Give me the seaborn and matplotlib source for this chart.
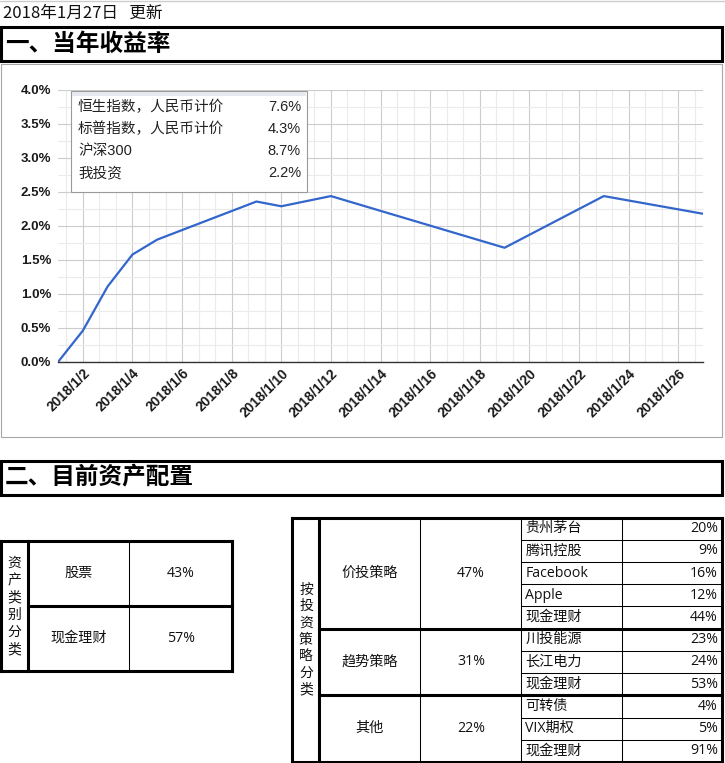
import matplotlib
matplotlib.use('Agg')
import matplotlib.pyplot as plt
from matplotlib.patches import Rectangle
from matplotlib.ticker import FixedLocator, MultipleLocator
from matplotlib.transforms import ScaledTranslation
import matplotlib.dates as mdates
import numpy as np
import pandas as pd
import seaborn as sns

# header texts
update_text = '2018年1月27日   更新'
title_1 = '一、当年收益率'
title_2 = '二、目前资产配置'

# yearly return line (in %)
dates = ['2018/1/1', '2018/1/2', '2018/1/3', '2018/1/4', '2018/1/5', '2018/1/9',
         '2018/1/10', '2018/1/12', '2018/1/19', '2018/1/23', '2018/1/27']
returns = [0.0, 0.46, 1.11, 1.58, 1.80, 2.36, 2.29, 2.44, 1.68, 2.44, 2.18]
date_ticks = ['2018/1/2', '2018/1/4', '2018/1/6', '2018/1/8', '2018/1/10', '2018/1/12',
              '2018/1/14', '2018/1/16', '2018/1/18', '2018/1/20', '2018/1/22',
              '2018/1/24', '2018/1/26']
y_ticks = [0.0, 0.5, 1.0, 1.5, 2.0, 2.5, 3.0, 3.5, 4.0]

legend_names = ['恒生指数，人民币计价', '标普指数，人民币计价', '沪深300', '我投资']
legend_values = ['7.6%', '4.3%', '8.7%', '2.2%']

# allocation tables
asset_title = '资产类别分类'
asset_names = ['股票', '现金理财']
asset_pcts = ['43%', '57%']

strategy_title = '按投资策略分类'
strategy_names = ['价投策略', '趋势策略', '其他']
strategy_pcts = ['47%', '31%', '22%']
value_names = ['贵州茅台', '腾讯控股', 'Facebook', 'Apple', '现金理财']
value_pcts = ['20%', '9%', '16%', '12%', '44%']
trend_names = ['川投能源', '长江电力', '现金理财']
trend_pcts = ['23%', '24%', '53%']
other_names = ['可转债', 'VIX期权', '现金理财']
other_pcts = ['4%', '5%', '91%']

sns.set_style('white')
plt.rcParams['font.family'] = ['Liberation Sans', 'Noto Sans CJK SC']
CJK = ['Noto Sans CJK SC']
TAB = ['Open Sans', 'Noto Sans CJK SC']
LEG = ['Liberation Sans', 'Noto Sans CJK SC']

W, H = 725, 763
fig = plt.figure(figsize=(W / 100, H / 100), dpi=100, facecolor='white')


def frect(x0, y0, x1, y1):
    return [x0 / W, 1 - y1 / H, (x1 - x0) / W, (y1 - y0) / H]


# ---- line chart ----
ax = fig.add_axes(frect(58, 90, 703, 362), zorder=1)
df = pd.DataFrame({'date': pd.to_datetime(dates, format='%Y/%m/%d'), 'ret': returns})
sns.lineplot(data=df, x='date', y='ret', ax=ax, color='#3366cc', linewidth=1.6)
ax.set(xlabel='', ylabel='')
ax.set_xlim(pd.Timestamp('2018-01-01'), pd.Timestamp('2018-01-27'))
ax.set_ylim(0, 4)

tick_pos = mdates.date2num(pd.to_datetime(date_ticks, format='%Y/%m/%d'))
x0, x1 = ax.get_xlim()
minor = [tick_pos[0] - 2 / 3] + [t + d for t in tick_pos for d in (2 / 3, 4 / 3)]
minor = [m for m in minor if x0 < m < x1]
ax.set_xticks(tick_pos)
ax.set_xticklabels(date_ticks, rotation=45, ha='right', va='top', rotation_mode='anchor',
                   fontsize=10, fontweight='bold', color='#1a1a1a')
shift = ScaledTranslation(4 / 100, 0, fig.dpi_scale_trans)
for lbl in ax.get_xticklabels():
    lbl.set_transform(lbl.get_transform() + shift)
ax.xaxis.set_minor_locator(FixedLocator(minor))
ax.set_yticks(y_ticks)
ax.set_yticklabels([f'{v:.1f}%' for v in y_ticks], fontsize=9.5, fontweight='bold', color='#1a1a1a')
ax.yaxis.set_minor_locator(MultipleLocator(0.25))
ax.tick_params(axis='both', which='both', length=0)
ax.tick_params(axis='x', pad=3)
ax.tick_params(axis='y', pad=5)
ax.set_axisbelow(True)
ax.grid(which='major', color='#cccccc', linewidth=0.8)
ax.grid(which='minor', color='#ebebeb', linewidth=0.8)
for s in ['left', 'top', 'right']:
    ax.spines[s].set_visible(False)
ax.spines['bottom'].set_color('#333333')
ax.spines['bottom'].set_linewidth(1.0)

# ---- overlay in pixel coordinates ----
ov = fig.add_axes([0, 0, 1, 1], zorder=2)
ov.set_xlim(0, W)
ov.set_ylim(H, 0)
ov.axis('off')
ov.patch.set_alpha(0)

ov.plot([0, W], [0.5, 0.5], color='#cccccc', lw=1)
ov.text(3, 13, update_text, fontsize=12, family=CJK, va='center', ha='left', color='#111111')

for (yt, yb), title in [((27.3, 60.7), title_1), ((460.5, 494.7), title_2)]:
    ov.add_patch(Rectangle((1.5, yt), 721, yb - yt, fill=False, ec='black', lw=2.2))
    ov.text(5, (yt + yb) / 2, title, fontsize=17, family=CJK, fontweight='bold',
            va='center', ha='left', color='black')

# chart container
ov.add_patch(Rectangle((1, 63.5), 721, 373.5, fill=False, ec='#a6a6a6', lw=0.8))

# legend box
ov.add_patch(Rectangle((71, 91), 236, 101, fc='white', ec='#9a9a9a', lw=0.8))
ov.add_patch(Rectangle((71.6, 91.6), 234.8, 4, fc='#e6e9f0', ec='none'))
for i, (nm, vl) in enumerate(zip(legend_names, legend_values)):
    yy = 107 + i * 22
    ov.text(78, yy, nm, fontsize=10.5, family=LEG, va='center', ha='left', color='#222222')
    ov.text(301, yy, vl, fontsize=10.5, family=LEG, va='center', ha='right', color='#222222')

THICK, THIN = 2.2, 0.75


def hline(x_a, x_b, y, lw):
    ov.plot([x_a, x_b], [y, y], color='black', lw=lw, solid_capstyle='projecting')


def vline(x, y_a, y_b, lw):
    ov.plot([x, x], [y_a, y_b], color='black', lw=lw, solid_capstyle='projecting')


def vertical_text(x, yc, txt, step, size):
    n = len(txt)
    for i, ch in enumerate(txt):
        ov.text(x, yc + (i - (n - 1) / 2) * step, ch, fontsize=size, family=CJK,
                ha='center', va='center', color='#111111')


# ---- left table ----
lt, lb, lm = 540.7, 671, 606
lx = [1.5, 28, 129.5, 232]
for x in [lx[0], lx[1], lx[3]]:
    vline(x, lt, lb, THICK)
vline(lx[2], lt, lb, THIN)
hline(lx[0], lx[3], lt, THICK)
hline(lx[0], lx[3], lb, THICK)
hline(lx[1], lx[3], lm, THICK)
vertical_text((lx[0] + lx[1]) / 2, (lt + lb) / 2, asset_title, 17.3, 10)
for (ya, yb), nm, pc in zip([(lt, lm), (lm, lb)], asset_names, asset_pcts):
    ov.text((lx[1] + lx[2]) / 2, (ya + yb) / 2, nm, fontsize=10.2, family=TAB, ha='center', va='center', color='#111111')
    ov.text((lx[2] + lx[3]) / 2, (ya + yb) / 2, pc, fontsize=10.2, family=TAB, ha='center', va='center', color='#111111')

# ---- right table ----
rt, rb = 517.5, 762
rx = [292.5, 319.5, 420.5, 521.5, 622.5, 722]
row_h = (rb - rt) / 11
groups = [(value_names, value_pcts), (trend_names, trend_pcts), (other_names, other_pcts)]
vline(rx[0], rt, rb, THICK)
vline(rx[1], rt, rb, THICK)
vline(rx[2], rt, rb, THIN)
vline(rx[3], rt, rb, THIN)
vline(rx[4], rt, rb, THIN)
vline(rx[5], rt, rb, THICK)
hline(rx[0], rx[5], rt, THICK)
hline(rx[0], rx[5], rb, THICK)
vertical_text((rx[0] + rx[1]) / 2, (rt + rb) / 2, strategy_title, 16.7, 10)

row = 0
for gi, (names, pcts) in enumerate(groups):
    g_top = rt + row * row_h
    g_bot = g_top + len(names) * row_h
    if gi > 0:
        hline(rx[1], rx[5], g_top, THICK)
    ov.text((rx[1] + rx[2]) / 2, (g_top + g_bot) / 2, strategy_names[gi], fontsize=10.2,
            family=TAB, ha='center', va='center', color='#111111')
    ov.text((rx[2] + rx[3]) / 2, (g_top + g_bot) / 2, strategy_pcts[gi], fontsize=10.2,
            family=TAB, ha='center', va='center', color='#111111')
    for j, (nm, pc) in enumerate(zip(names, pcts)):
        yt = g_top + j * row_h
        if j > 0:
            hline(rx[3], rx[5], yt, THIN)
        ov.text(rx[3] + 4, yt + row_h / 2, nm, fontsize=10.2, family=TAB,
                ha='left', va='center', color='#111111')
        ov.text(rx[5] - 4, yt + row_h / 2, pc, fontsize=10.2, family=TAB,
                ha='right', va='center', color='#111111')
    row += len(names)

fig.savefig('out.png', dpi=100, facecolor='white')
